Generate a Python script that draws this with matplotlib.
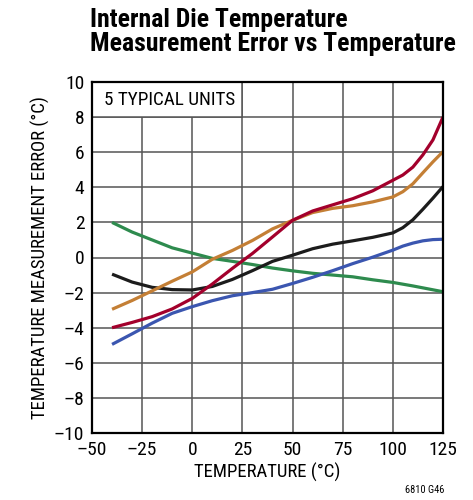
import numpy as np
import matplotlib
matplotlib.use("Agg")
import matplotlib.pyplot as plt
from matplotlib.patches import Rectangle

plt.rcParams['font.family'] = ['Roboto Condensed', 'DejaVu Sans']

# readings, 5 units
temp = [-40, -30, -20, -10, 0, 10, 20, 30, 40, 50, 60, 70, 80, 90, 100, 105, 110, 115, 120, 125]
green = [2.0, 1.45, 1.0, 0.55, 0.25, -0.05, -0.22, -0.4, -0.6, -0.76, -0.9, -1.0, -1.1, -1.27, -1.42, -1.52, -1.62, -1.73, -1.84, -1.95]
black = [-0.95, -1.4, -1.7, -1.83, -1.85, -1.65, -1.25, -0.75, -0.22, 0.13, 0.5, 0.76, 0.95, 1.15, 1.4, 1.7, 2.15, 2.75, 3.38, 4.04]
orange = [-2.95, -2.45, -1.9, -1.35, -0.82, -0.1, 0.4, 0.97, 1.63, 2.12, 2.56, 2.8, 2.95, 3.17, 3.45, 3.75, 4.2, 4.83, 5.45, 6.03]
red = [-4.0, -3.7, -3.37, -2.93, -2.33, -1.51, -0.62, 0.23, 1.17, 2.12, 2.65, 3.0, 3.35, 3.8, 4.4, 4.7, 5.15, 5.85, 6.7, 8.0]
blue = [-4.95, -4.35, -3.74, -3.18, -2.8, -2.46, -2.18, -2.0, -1.81, -1.48, -1.13, -0.75, -0.35, 0.02, 0.42, 0.65, 0.82, 0.95, 1.02, 1.04]

xticks = [-50, -25, 0, 25, 50, 75, 100, 125]
yticks = [-10, -8, -6, -4, -2, 0, 2, 4, 6, 8, 10]

fig = plt.figure(figsize=(4.73, 5), dpi=100)
ax = fig.add_axes([0.1945, 0.134, 0.742, 0.702])

ax.set_xlim(-50, 125)
ax.set_ylim(-10, 10)
ax.set_xticks(xticks)
ax.set_yticks(yticks)
ax.set_xticklabels([str(t).replace("-", "\u2013") for t in xticks])
ax.set_yticklabels([str(t).replace("-", "\u2013") for t in yticks])
ax.tick_params(length=0, labelsize=14, pad=5.5)
ax.grid(color="#555555", lw=1.1)
ax.set_axisbelow(True)
for s in ax.spines.values():
    s.set_linewidth(1.6)
    s.set_color("black")

# label box in top-left
ax.add_patch(Rectangle((-50, 8), 75, 2, facecolor="white", edgecolor="#555555", lw=1.1, zorder=1.5))
ax.text(-44, 9.0, "5 TYPICAL UNITS", fontsize=13.8, va="center", ha="left", zorder=3)

lw = 2.3
ax.plot(temp, green, color="#2e8b4e", lw=lw, zorder=2, solid_capstyle="butt")
ax.plot(temp, blue, color="#3b56b0", lw=lw, zorder=2, solid_capstyle="butt")
ax.plot(temp, black, color="#1c1c1c", lw=lw, zorder=2, solid_capstyle="butt")
ax.plot(temp, orange, color="#c47f35", lw=lw, zorder=2, solid_capstyle="butt")
ax.plot(temp, red, color="#a3002c", lw=lw, zorder=2, solid_capstyle="butt")

ax.set_xlabel("TEMPERATURE (\u00b0C)", fontsize=13.5, labelpad=3)
ax.set_ylabel("TEMPERATURE MEASUREMENT ERROR (\u00b0C)", fontsize=13.5, labelpad=3)

fig.text(0.19, 0.985, "Internal Die Temperature\nMeasurement Error vs Temperature",
         fontsize=18.5, fontweight="bold", ha="left", va="top", linespacing=1.0)
fig.text(0.94, 0.01, "6810 G46", fontsize=7.5, ha="right", va="bottom")

fig.savefig("out.png", dpi=100)
